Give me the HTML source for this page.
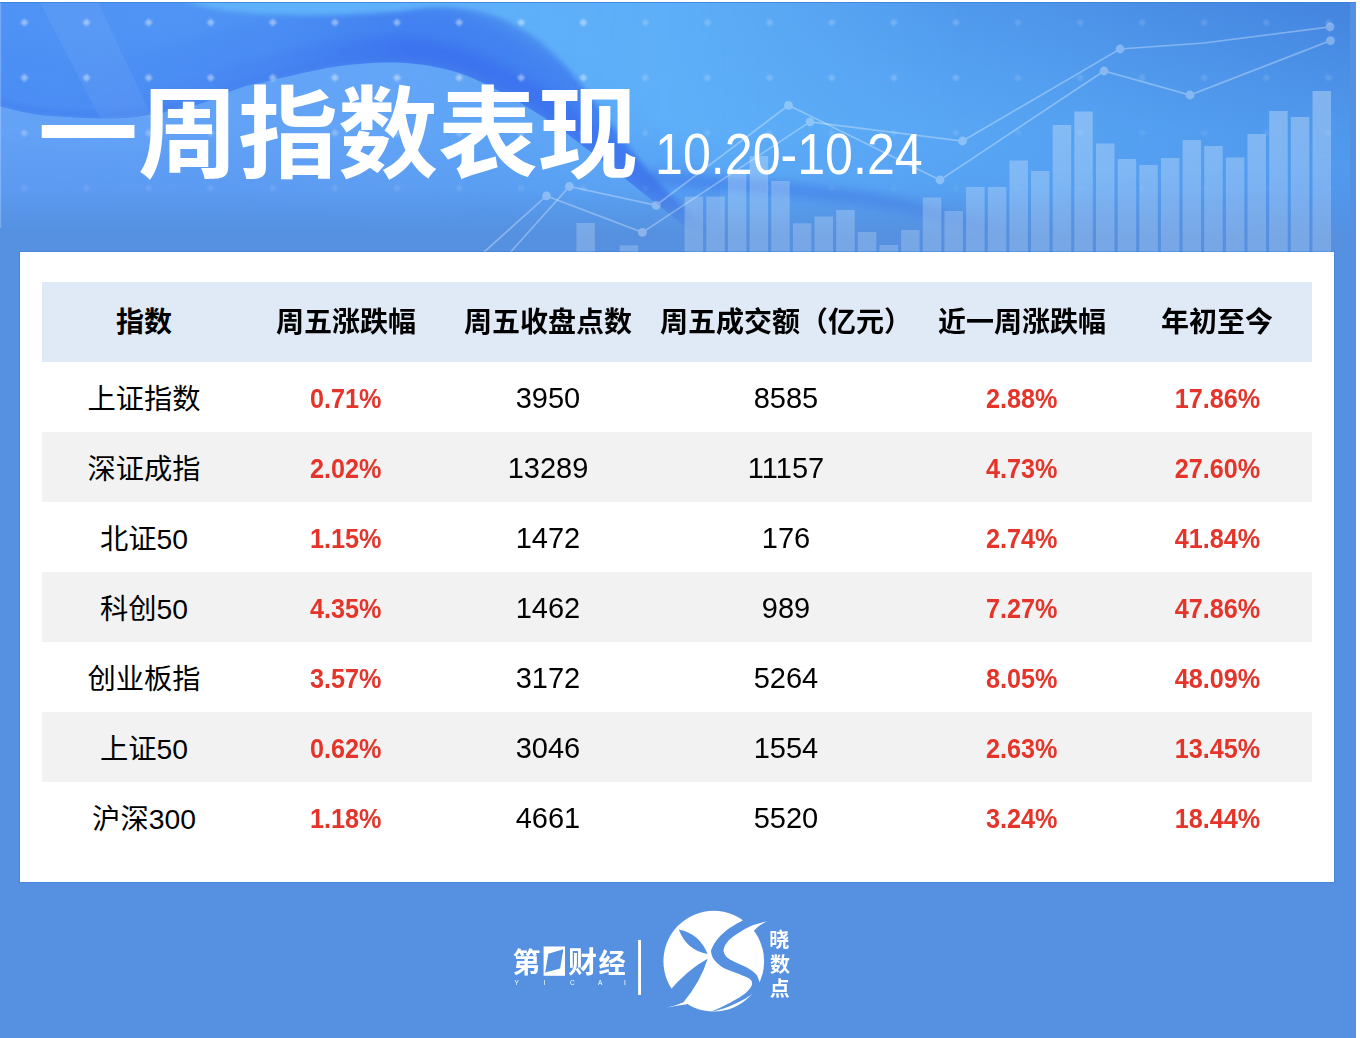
<!DOCTYPE html>
<html lang="zh-CN">
<head>
<meta charset="utf-8">
<title>一周指数表现 10.20-10.24</title>
<style>
html,body{margin:0;padding:0;background:#fff;}
body{width:1360px;height:1038px;position:relative;overflow:hidden;font-family:"Liberation Sans","Noto Sans CJK SC",sans-serif;}
#page{position:absolute;left:0;top:2px;width:1356px;height:1036px;background:#5591e0;overflow:hidden;}
#hdr{position:absolute;left:0;top:0;width:1356px;height:252px;}
#hdr svg{display:block;}
h1{margin:0;position:absolute;left:38px;top:73px;font-size:100px;line-height:120px;font-weight:bold;color:#fff;white-space:nowrap;letter-spacing:0;font-family:"Liberation Sans","Noto Sans CJK SC",sans-serif;}
#date{position:absolute;left:655px;top:119px;font-size:57px;line-height:66px;color:#fff;white-space:nowrap;transform-origin:0 50%;transform:scaleX(0.88);}
#card{position:absolute;left:20px;top:250px;width:1314px;height:630px;background:#fff;box-shadow:0 0 0 1px rgba(48,110,205,0.28);}
table{position:absolute;left:22px;top:30px;width:1270px;border-collapse:collapse;table-layout:fixed;}
th,td{padding:0;margin:0;text-align:center;vertical-align:middle;white-space:nowrap;overflow:hidden;line-height:34px;}
tr.hd{height:80px;background:#e0eaf6;}
tr.odd{height:70px;background:#fff;}
tr.even{height:70px;background:#f2f2f2;}
th{font-size:28px;font-weight:bold;}
td{font-size:29px;color:#000;}
.cj{color:#000;position:relative;top:1px;font-family:"Liberation Sans","Noto Sans CJK SC",sans-serif;}
td .cj{font-size:28.3px;top:2px;}
.bn{display:inline-block;position:relative;top:1px;}
td.red{color:#e5352b;}
.rn{display:inline-block;font-weight:bold;font-size:28px;transform:scaleX(0.9);position:relative;top:1px;}
#ov{position:absolute;left:0;top:0;width:1360px;height:1038px;pointer-events:none;}
#logo{position:absolute;left:0;top:0;}
</style>
</head>
<body>
<div id="page">
  <div id="hdr"><svg width="1356" height="252" viewBox="0 2 1356 252" aria-hidden="true">
<defs>
<linearGradient id="bgH" x1="0" y1="0" x2="1350" y2="0" gradientUnits="userSpaceOnUse">
<stop offset="0" stop-color="#4e92f5"/><stop offset="0.18" stop-color="#5095f5"/><stop offset="0.36" stop-color="#55a0f6"/>
<stop offset="0.5" stop-color="#5eb0f9"/><stop offset="0.7" stop-color="#5aaaf7"/><stop offset="0.86" stop-color="#56a3f3"/><stop offset="1" stop-color="#529df0"/>
</linearGradient>
<linearGradient id="bgV" x1="0" y1="2" x2="0" y2="252" gradientUnits="userSpaceOnUse">
<stop offset="0" stop-color="#3f7fe6" stop-opacity="0"/><stop offset="0.5" stop-color="#4a8ae8" stop-opacity="0.0"/><stop offset="0.8" stop-color="#4d8be6" stop-opacity="0.35"/><stop offset="1" stop-color="#4d8be6" stop-opacity="0.5"/>
</linearGradient>
<linearGradient id="fade" x1="0" y1="190" x2="0" y2="234" gradientUnits="userSpaceOnUse">
<stop offset="0" stop-color="#5591e0" stop-opacity="0"/><stop offset="1" stop-color="#5591e0" stop-opacity="1"/>
</linearGradient>
<linearGradient id="barG" x1="0" y1="90" x2="0" y2="252" gradientUnits="userSpaceOnUse">
<stop offset="0" stop-color="#fff" stop-opacity="0.30"/><stop offset="1" stop-color="#fff" stop-opacity="0.20"/>
</linearGradient>
<linearGradient id="trG" x1="0" y1="2" x2="0" y2="165" gradientUnits="userSpaceOnUse">
<stop offset="0" stop-color="#3a74d4" stop-opacity="1"/><stop offset="0.45" stop-color="#3a74d4" stop-opacity="0.5"/><stop offset="1" stop-color="#3a74d4" stop-opacity="0"/>
</linearGradient>
<linearGradient id="trM" x1="430" y1="0" x2="1350" y2="0" gradientUnits="userSpaceOnUse">
<stop offset="0" stop-color="#fff" stop-opacity="0"/><stop offset="0.08" stop-color="#fff" stop-opacity="0.2"/><stop offset="0.36" stop-color="#fff" stop-opacity="0.22"/><stop offset="0.68" stop-color="#fff" stop-opacity="0.36"/><stop offset="1" stop-color="#fff" stop-opacity="0.62"/>
</linearGradient>
<mask id="trMask" maskUnits="userSpaceOnUse" x="0" y="0" width="1360" height="260"><rect x="0" y="0" width="1360" height="260" fill="url(#trM)"/></mask>
<linearGradient id="coreM" x1="60" y1="0" x2="800" y2="0" gradientUnits="userSpaceOnUse">
<stop offset="0" stop-color="#fff" stop-opacity="0.15"/><stop offset="0.28" stop-color="#fff" stop-opacity="0.45"/><stop offset="0.47" stop-color="#fff" stop-opacity="1"/><stop offset="0.92" stop-color="#fff" stop-opacity="1"/><stop offset="1" stop-color="#fff" stop-opacity="0.4"/>
</linearGradient>
<mask id="coreMask" maskUnits="userSpaceOnUse" x="-20" y="-40" width="1400" height="320"><rect x="-20" y="-40" width="1400" height="320" fill="url(#coreM)"/></mask>
<linearGradient id="ltG" x1="430" y1="0" x2="960" y2="0" gradientUnits="userSpaceOnUse">
<stop offset="0" stop-color="#60b3fa" stop-opacity="0.95"/><stop offset="0.45" stop-color="#5eb0f9" stop-opacity="0.85"/><stop offset="1" stop-color="#5aa9f6" stop-opacity="0"/>
</linearGradient>
<filter id="b3" x="-10%" y="-30%" width="120%" height="160%"><feGaussianBlur stdDeviation="2.5"/></filter>
<filter id="b6" x="-10%" y="-30%" width="120%" height="160%"><feGaussianBlur stdDeviation="6"/></filter>
<linearGradient id="blG" x1="0" y1="0" x2="700" y2="0" gradientUnits="userSpaceOnUse">
<stop offset="0" stop-color="#7fb6f8" stop-opacity="0.42"/><stop offset="0.55" stop-color="#7fb6f8" stop-opacity="0.36"/><stop offset="1" stop-color="#7fb6f8" stop-opacity="0"/>
</linearGradient>
<filter id="b07" x="-1%" y="-5%" width="102%" height="110%"><feGaussianBlur stdDeviation="0.8"/></filter>
<filter id="b4" x="-10%" y="-30%" width="120%" height="160%"><feGaussianBlur stdDeviation="4"/></filter>
<filter id="b10" x="-10%" y="-30%" width="120%" height="160%"><feGaussianBlur stdDeviation="10"/></filter>
<filter id="b18" x="-10%" y="-40%" width="120%" height="180%"><feGaussianBlur stdDeviation="18"/></filter>
<clipPath id="aboveL"><path d="M-10.0,104.0C-2.8,105.7 20.3,111.8 33.0,114.0C45.7,116.2 54.8,116.2 66.0,117.0C77.2,117.8 89.0,118.4 100.0,118.5C111.0,118.6 122.0,118.4 132.0,117.5C142.0,116.6 148.7,115.2 160.0,113.0C171.3,110.8 186.7,108.2 200.0,104.0C213.3,99.8 229.2,91.7 240.0,88.0C250.8,84.3 256.7,84.0 265.0,82.0C273.3,80.0 277.5,78.7 290.0,76.0C302.5,73.3 323.3,68.2 340.0,66.0C356.7,63.8 375.0,62.5 390.0,62.5C405.0,62.5 417.5,63.9 430.0,66.0C442.5,68.1 453.0,70.6 465.0,75.0C477.0,79.4 489.5,85.8 502.0,92.5C514.5,99.2 529.5,108.3 540.0,115.0C550.5,121.7 554.3,124.7 565.0,132.5C575.7,140.3 591.8,152.6 604.0,162.0C616.2,171.4 626.7,180.0 638.0,189.0C649.3,198.0 660.8,206.7 672.0,216.0C683.2,225.3 697.0,237.3 705.0,245.0C713.0,252.7 717.5,259.2 720.0,262.0L720,-40L-10,-40Z"/></clipPath>
<clipPath id="hdrClip"><rect x="0" y="2" width="1350" height="252"/></clipPath>
</defs>
<g clip-path="url(#hdrClip)">
<rect x="0" y="2" width="1350" height="252" fill="url(#bgH)"/>
<rect x="0" y="2" width="1350" height="252" fill="url(#trG)" mask="url(#trMask)"/>
<g clip-path="url(#aboveL)" mask="url(#coreMask)">
<path d="M-10.0,70.0C-2.8,71.7 20.3,77.8 33.0,80.0C45.7,82.2 54.8,82.2 66.0,83.0C77.2,83.8 89.0,84.4 100.0,84.5C111.0,84.6 122.0,84.4 132.0,83.5C142.0,82.6 148.7,81.2 160.0,79.0C171.3,76.8 186.7,74.2 200.0,70.0C213.3,65.8 229.2,57.7 240.0,54.0C250.8,50.3 256.7,50.0 265.0,48.0C273.3,46.0 277.5,44.7 290.0,42.0C302.5,39.3 323.3,34.2 340.0,32.0C356.7,29.8 375.0,28.5 390.0,28.5C405.0,28.5 417.5,29.9 430.0,32.0C442.5,34.1 453.0,36.6 465.0,41.0C477.0,45.4 489.5,51.8 502.0,58.5C514.5,65.2 529.5,74.3 540.0,81.0C550.5,87.7 554.3,90.7 565.0,98.5C575.7,106.3 591.8,118.6 604.0,128.0C616.2,137.4 626.7,146.0 638.0,155.0C649.3,164.0 660.8,172.7 672.0,182.0C683.2,191.3 697.0,203.3 705.0,211.0C713.0,218.7 717.5,225.2 720.0,228.0" fill="none" stroke="#3f7df0" stroke-width="62" opacity="0.85" filter="url(#b10)"/>
<path d="M-10.0,94.0C-2.8,95.7 20.3,101.8 33.0,104.0C45.7,106.2 54.8,106.2 66.0,107.0C77.2,107.8 89.0,108.4 100.0,108.5C111.0,108.6 122.0,108.4 132.0,107.5C142.0,106.6 148.7,105.2 160.0,103.0C171.3,100.8 186.7,98.2 200.0,94.0C213.3,89.8 229.2,81.7 240.0,78.0C250.8,74.3 256.7,74.0 265.0,72.0C273.3,70.0 277.5,68.7 290.0,66.0C302.5,63.3 323.3,58.2 340.0,56.0C356.7,53.8 375.0,52.5 390.0,52.5C405.0,52.5 417.5,53.9 430.0,56.0C442.5,58.1 453.0,60.6 465.0,65.0C477.0,69.4 489.5,75.8 502.0,82.5C514.5,89.2 529.5,98.3 540.0,105.0C550.5,111.7 554.3,114.7 565.0,122.5C575.7,130.3 591.8,142.6 604.0,152.0C616.2,161.4 626.7,170.0 638.0,179.0C649.3,188.0 660.8,196.7 672.0,206.0C683.2,215.3 697.0,227.3 705.0,235.0C713.0,242.7 717.5,249.2 720.0,252.0" fill="none" stroke="#3a70ee" stroke-width="30" opacity="0.85" filter="url(#b6)"/>
</g>
<path d="M-10.0,100.5C-2.8,102.2 20.3,108.3 33.0,110.5C45.7,112.7 54.8,112.8 66.0,113.5C77.2,114.2 89.0,114.9 100.0,115.0C111.0,115.1 122.0,114.9 132.0,114.0C142.0,113.1 148.7,111.8 160.0,109.5C171.3,107.2 186.7,104.7 200.0,100.5C213.3,96.3 229.2,88.2 240.0,84.5C250.8,80.8 256.7,80.5 265.0,78.5C273.3,76.5 277.5,75.2 290.0,72.5C302.5,69.8 323.3,64.8 340.0,62.5C356.7,60.2 375.0,59.0 390.0,59.0C405.0,59.0 417.5,60.4 430.0,62.5C442.5,64.6 453.0,67.1 465.0,71.5C477.0,75.9 489.5,82.3 502.0,89.0C514.5,95.7 529.5,104.8 540.0,111.5C550.5,118.2 554.3,121.2 565.0,129.0C575.7,136.8 591.8,149.1 604.0,158.5C616.2,167.9 626.7,176.5 638.0,185.5C649.3,194.5 660.8,203.2 672.0,212.5C683.2,221.8 697.0,233.8 705.0,241.5C713.0,249.2 717.5,255.7 720.0,258.5" fill="none" stroke="#3a72ea" stroke-width="7" opacity="0.42" filter="url(#b3)" clip-path="url(#aboveL)"/>
<path d="M165.0,-5.0C173.3,-2.7 197.5,5.8 215.0,9.0C232.5,12.2 250.8,13.0 270.0,14.0C289.2,15.0 310.0,15.3 330.0,15.0C350.0,14.7 371.3,13.3 390.0,12.0C408.7,10.7 425.5,6.7 442.0,7.0C458.5,7.3 474.3,9.5 489.0,14.0C503.7,18.5 517.5,25.7 530.0,34.0C542.5,42.3 553.3,52.8 564.0,64.0C574.7,75.2 582.8,86.8 594.0,101.0C605.2,115.2 619.2,134.3 631.0,149.0C642.8,163.7 653.7,176.8 665.0,189.0C676.3,201.2 686.5,209.8 699.0,222.0C711.5,234.2 733.2,255.3 740.0,262.0L1000,262L1000,-40L150,-40Z" fill="url(#ltG)" filter="url(#b3)"/>
<path d="M-10.0,104.0C-2.8,105.7 20.3,111.8 33.0,114.0C45.7,116.2 54.8,116.2 66.0,117.0C77.2,117.8 89.0,118.4 100.0,118.5C111.0,118.6 122.0,118.4 132.0,117.5C142.0,116.6 148.7,115.2 160.0,113.0C171.3,110.8 186.7,108.2 200.0,104.0C213.3,99.8 229.2,91.7 240.0,88.0C250.8,84.3 256.7,84.0 265.0,82.0C273.3,80.0 277.5,78.7 290.0,76.0C302.5,73.3 323.3,68.2 340.0,66.0C356.7,63.8 375.0,62.5 390.0,62.5C405.0,62.5 417.5,63.9 430.0,66.0C442.5,68.1 453.0,70.6 465.0,75.0C477.0,79.4 489.5,85.8 502.0,92.5C514.5,99.2 529.5,108.3 540.0,115.0C550.5,121.7 554.3,124.7 565.0,132.5C575.7,140.3 591.8,152.6 604.0,162.0C616.2,171.4 626.7,180.0 638.0,189.0C649.3,198.0 660.8,206.7 672.0,216.0C683.2,225.3 697.0,237.3 705.0,245.0C713.0,252.7 717.5,259.2 720.0,262.0L720,270L-10,270Z" fill="url(#blG)"/>
<path d="M-10.0,118.0C-2.8,119.7 20.3,125.8 33.0,128.0C45.7,130.2 54.8,130.2 66.0,131.0C77.2,131.8 89.0,132.4 100.0,132.5C111.0,132.6 122.0,132.4 132.0,131.5C142.0,130.6 148.7,129.2 160.0,127.0C171.3,124.8 186.7,122.2 200.0,118.0C213.3,113.8 229.2,105.7 240.0,102.0C250.8,98.3 256.7,98.0 265.0,96.0C273.3,94.0 277.5,92.7 290.0,90.0C302.5,87.3 323.3,82.2 340.0,80.0C356.7,77.8 375.0,76.5 390.0,76.5C405.0,76.5 417.5,77.9 430.0,80.0C442.5,82.1 453.0,84.6 465.0,89.0C477.0,93.4 489.5,99.8 502.0,106.5C514.5,113.2 529.5,122.3 540.0,129.0C550.5,135.7 554.3,138.7 565.0,146.5C575.7,154.3 591.8,166.6 604.0,176.0C616.2,185.4 626.7,194.0 638.0,203.0C649.3,212.0 660.8,220.7 672.0,230.0C683.2,239.3 697.0,251.3 705.0,259.0C713.0,266.7 717.5,273.2 720.0,276.0" fill="none" stroke="#66a8f8" stroke-width="26" opacity="0.3" filter="url(#b10)"/>
<path d="M40,2L98,2L152,117L100,118.5Z" fill="#fff" opacity="0.06"/>
<rect x="0" y="2" width="1350" height="252" fill="url(#bgV)"/>
<path d="M650.0,176.0C658.3,177.0 678.3,179.8 700.0,182.0C721.7,184.2 750.0,185.7 780.0,189.0C810.0,192.3 850.0,196.5 880.0,202.0C910.0,207.5 938.3,215.7 960.0,222.0C981.7,228.3 1001.7,237.0 1010.0,240.0" fill="none" stroke="#3d76e6" stroke-width="15" opacity="0.5" filter="url(#b4)"/>
<rect x="0" y="170" width="1350" height="90" fill="url(#fade)"/>
<g fill="#fff" filter="url(#b07)"><path d="M20.4,22.6L24.4,18.6L28.4,22.6L24.4,26.6Z" opacity="0.42"/><path d="M82.5,22.6L86.5,18.6L90.5,22.6L86.5,26.6Z" opacity="0.42"/><path d="M144.6,22.6L148.6,18.6L152.6,22.6L148.6,26.6Z" opacity="0.42"/><path d="M206.7,22.6L210.7,18.6L214.7,22.6L210.7,26.6Z" opacity="0.42"/><path d="M268.8,22.6L272.8,18.6L276.8,22.6L272.8,26.6Z" opacity="0.42"/><path d="M330.9,22.6L334.9,18.6L338.9,22.6L334.9,26.6Z" opacity="0.42"/><path d="M393.0,22.6L397.0,18.6L401.0,22.6L397.0,26.6Z" opacity="0.42"/><path d="M455.1,22.6L459.1,18.6L463.1,22.6L459.1,26.6Z" opacity="0.42"/><path d="M517.2,22.6L521.2,18.6L525.2,22.6L521.2,26.6Z" opacity="0.42"/><path d="M579.3,22.6L583.3,18.6L587.3,22.6L583.3,26.6Z" opacity="0.42"/><path d="M641.4,22.6L645.4,18.6L649.4,22.6L645.4,26.6Z" opacity="0.20"/><path d="M703.5,22.6L707.5,18.6L711.5,22.6L707.5,26.6Z" opacity="0.20"/><path d="M765.6,22.6L769.6,18.6L773.6,22.6L769.6,26.6Z" opacity="0.20"/><path d="M827.7,22.6L831.7,18.6L835.7,22.6L831.7,26.6Z" opacity="0.20"/><path d="M889.8,22.6L893.8,18.6L897.8,22.6L893.8,26.6Z" opacity="0.20"/><path d="M951.9,22.6L955.9,18.6L959.9,22.6L955.9,26.6Z" opacity="0.20"/><path d="M1014.0,22.6L1018.0,18.6L1022.0,22.6L1018.0,26.6Z" opacity="0.13"/><path d="M1076.1,22.6L1080.1,18.6L1084.1,22.6L1080.1,26.6Z" opacity="0.13"/><path d="M1138.2,22.6L1142.2,18.6L1146.2,22.6L1142.2,26.6Z" opacity="0.13"/><path d="M1200.3,22.6L1204.3,18.6L1208.3,22.6L1204.3,26.6Z" opacity="0.13"/><path d="M1262.4,22.6L1266.4,18.6L1270.4,22.6L1266.4,26.6Z" opacity="0.13"/><path d="M1324.5,22.6L1328.5,18.6L1332.5,22.6L1328.5,26.6Z" opacity="0.13"/><path d="M20.4,77.8L24.4,73.8L28.4,77.8L24.4,81.8Z" opacity="0.42"/><path d="M82.5,77.8L86.5,73.8L90.5,77.8L86.5,81.8Z" opacity="0.42"/><path d="M144.6,77.8L148.6,73.8L152.6,77.8L148.6,81.8Z" opacity="0.42"/><path d="M206.7,77.8L210.7,73.8L214.7,77.8L210.7,81.8Z" opacity="0.42"/><path d="M268.8,77.8L272.8,73.8L276.8,77.8L272.8,81.8Z" opacity="0.42"/><path d="M330.9,77.8L334.9,73.8L338.9,77.8L334.9,81.8Z" opacity="0.42"/><path d="M393.0,77.8L397.0,73.8L401.0,77.8L397.0,81.8Z" opacity="0.42"/><path d="M455.1,77.8L459.1,73.8L463.1,77.8L459.1,81.8Z" opacity="0.42"/><path d="M517.2,77.8L521.2,73.8L525.2,77.8L521.2,81.8Z" opacity="0.42"/><path d="M579.3,77.8L583.3,73.8L587.3,77.8L583.3,81.8Z" opacity="0.42"/><path d="M641.4,77.8L645.4,73.8L649.4,77.8L645.4,81.8Z" opacity="0.20"/><path d="M703.5,77.8L707.5,73.8L711.5,77.8L707.5,81.8Z" opacity="0.20"/><path d="M765.6,77.8L769.6,73.8L773.6,77.8L769.6,81.8Z" opacity="0.20"/><path d="M827.7,77.8L831.7,73.8L835.7,77.8L831.7,81.8Z" opacity="0.20"/><path d="M889.8,77.8L893.8,73.8L897.8,77.8L893.8,81.8Z" opacity="0.20"/><path d="M951.9,77.8L955.9,73.8L959.9,77.8L955.9,81.8Z" opacity="0.20"/><path d="M1014.0,77.8L1018.0,73.8L1022.0,77.8L1018.0,81.8Z" opacity="0.13"/><path d="M1076.1,77.8L1080.1,73.8L1084.1,77.8L1080.1,81.8Z" opacity="0.13"/><path d="M1138.2,77.8L1142.2,73.8L1146.2,77.8L1142.2,81.8Z" opacity="0.13"/><path d="M1200.3,77.8L1204.3,73.8L1208.3,77.8L1204.3,81.8Z" opacity="0.13"/><path d="M1262.4,77.8L1266.4,73.8L1270.4,77.8L1266.4,81.8Z" opacity="0.13"/><path d="M1324.5,77.8L1328.5,73.8L1332.5,77.8L1328.5,81.8Z" opacity="0.13"/><path d="M20.4,133.0L24.4,129.0L28.4,133.0L24.4,137.0Z" opacity="0.25"/><path d="M82.5,133.0L86.5,129.0L90.5,133.0L86.5,137.0Z" opacity="0.25"/><path d="M144.6,133.0L148.6,129.0L152.6,133.0L148.6,137.0Z" opacity="0.25"/><path d="M206.7,133.0L210.7,129.0L214.7,133.0L210.7,137.0Z" opacity="0.25"/><path d="M268.8,133.0L272.8,129.0L276.8,133.0L272.8,137.0Z" opacity="0.25"/><path d="M330.9,133.0L334.9,129.0L338.9,133.0L334.9,137.0Z" opacity="0.25"/><path d="M393.0,133.0L397.0,129.0L401.0,133.0L397.0,137.0Z" opacity="0.25"/><path d="M455.1,133.0L459.1,129.0L463.1,133.0L459.1,137.0Z" opacity="0.25"/><path d="M517.2,133.0L521.2,129.0L525.2,133.0L521.2,137.0Z" opacity="0.25"/><path d="M579.3,133.0L583.3,129.0L587.3,133.0L583.3,137.0Z" opacity="0.25"/><path d="M641.4,133.0L645.4,129.0L649.4,133.0L645.4,137.0Z" opacity="0.12"/><path d="M703.5,133.0L707.5,129.0L711.5,133.0L707.5,137.0Z" opacity="0.12"/><path d="M765.6,133.0L769.6,129.0L773.6,133.0L769.6,137.0Z" opacity="0.12"/><path d="M827.7,133.0L831.7,129.0L835.7,133.0L831.7,137.0Z" opacity="0.12"/><path d="M889.8,133.0L893.8,129.0L897.8,133.0L893.8,137.0Z" opacity="0.12"/><path d="M951.9,133.0L955.9,129.0L959.9,133.0L955.9,137.0Z" opacity="0.12"/><path d="M1014.0,133.0L1018.0,129.0L1022.0,133.0L1018.0,137.0Z" opacity="0.08"/><path d="M1076.1,133.0L1080.1,129.0L1084.1,133.0L1080.1,137.0Z" opacity="0.08"/><path d="M1138.2,133.0L1142.2,129.0L1146.2,133.0L1142.2,137.0Z" opacity="0.08"/><path d="M1200.3,133.0L1204.3,129.0L1208.3,133.0L1204.3,137.0Z" opacity="0.08"/><path d="M1262.4,133.0L1266.4,129.0L1270.4,133.0L1266.4,137.0Z" opacity="0.08"/><path d="M1324.5,133.0L1328.5,129.0L1332.5,133.0L1328.5,137.0Z" opacity="0.08"/><path d="M20.4,188.2L24.4,184.2L28.4,188.2L24.4,192.2Z" opacity="0.10"/><path d="M82.5,188.2L86.5,184.2L90.5,188.2L86.5,192.2Z" opacity="0.10"/><path d="M144.6,188.2L148.6,184.2L152.6,188.2L148.6,192.2Z" opacity="0.10"/><path d="M206.7,188.2L210.7,184.2L214.7,188.2L210.7,192.2Z" opacity="0.10"/><path d="M268.8,188.2L272.8,184.2L276.8,188.2L272.8,192.2Z" opacity="0.10"/><path d="M330.9,188.2L334.9,184.2L338.9,188.2L334.9,192.2Z" opacity="0.10"/><path d="M393.0,188.2L397.0,184.2L401.0,188.2L397.0,192.2Z" opacity="0.10"/><path d="M455.1,188.2L459.1,184.2L463.1,188.2L459.1,192.2Z" opacity="0.10"/><path d="M517.2,188.2L521.2,184.2L525.2,188.2L521.2,192.2Z" opacity="0.10"/><path d="M579.3,188.2L583.3,184.2L587.3,188.2L583.3,192.2Z" opacity="0.10"/><path d="M641.4,188.2L645.4,184.2L649.4,188.2L645.4,192.2Z" opacity="0.05"/><path d="M703.5,188.2L707.5,184.2L711.5,188.2L707.5,192.2Z" opacity="0.05"/><path d="M765.6,188.2L769.6,184.2L773.6,188.2L769.6,192.2Z" opacity="0.05"/><path d="M827.7,188.2L831.7,184.2L835.7,188.2L831.7,192.2Z" opacity="0.05"/><path d="M889.8,188.2L893.8,184.2L897.8,188.2L893.8,192.2Z" opacity="0.05"/><path d="M951.9,188.2L955.9,184.2L959.9,188.2L955.9,192.2Z" opacity="0.05"/><path d="M1014.0,188.2L1018.0,184.2L1022.0,188.2L1018.0,192.2Z" opacity="0.03"/><path d="M1076.1,188.2L1080.1,184.2L1084.1,188.2L1080.1,192.2Z" opacity="0.03"/><path d="M1138.2,188.2L1142.2,184.2L1146.2,188.2L1142.2,192.2Z" opacity="0.03"/><path d="M1200.3,188.2L1204.3,184.2L1208.3,188.2L1204.3,192.2Z" opacity="0.03"/><path d="M1262.4,188.2L1266.4,184.2L1270.4,188.2L1266.4,192.2Z" opacity="0.03"/><path d="M1324.5,188.2L1328.5,184.2L1332.5,188.2L1328.5,192.2Z" opacity="0.03"/></g>
<g fill="url(#barG)"><rect x="576.4" y="223" width="18.5" height="31.0"/><rect x="619.7" y="245.3" width="18.5" height="8.7"/><rect x="684.6" y="196.6" width="18.5" height="57.4"/><rect x="706.3" y="196.6" width="18.5" height="57.4"/><rect x="727.9" y="174" width="18.5" height="80.0"/><rect x="749.6" y="156" width="18.5" height="98.0"/><rect x="771.2" y="181" width="18.5" height="73.0"/><rect x="792.9" y="223.3" width="18.5" height="30.7"/><rect x="814.5" y="216.5" width="18.5" height="37.5"/><rect x="836.2" y="210" width="18.5" height="44.0"/><rect x="857.8" y="232" width="18.5" height="22.0"/><rect x="879.5" y="245" width="18.5" height="9.0"/><rect x="901.1" y="230" width="18.5" height="24.0"/><rect x="922.8" y="197.5" width="18.5" height="56.5"/><rect x="944.4" y="211" width="18.5" height="43.0"/><rect x="966.1" y="187" width="18.5" height="67.0"/><rect x="987.8" y="187" width="18.5" height="67.0"/><rect x="1009.4" y="160.5" width="18.5" height="93.5"/><rect x="1031.0" y="171" width="18.5" height="83.0"/><rect x="1052.7" y="125" width="18.5" height="129.0"/><rect x="1074.3" y="111.5" width="18.5" height="142.5"/><rect x="1096.0" y="143.5" width="18.5" height="110.5"/><rect x="1117.7" y="159" width="18.5" height="95.0"/><rect x="1139.3" y="165" width="18.5" height="89.0"/><rect x="1160.9" y="158" width="18.5" height="96.0"/><rect x="1182.6" y="140" width="18.5" height="114.0"/><rect x="1204.2" y="146" width="18.5" height="108.0"/><rect x="1225.9" y="157.5" width="18.5" height="96.5"/><rect x="1247.5" y="134" width="18.5" height="120.0"/><rect x="1269.2" y="111" width="18.5" height="143.0"/><rect x="1290.8" y="117" width="18.5" height="137.0"/><rect x="1312.5" y="91" width="18.5" height="163.0"/></g>
<g opacity="0.31" fill="#fff"><polyline points="484.1,252 546.5,195.9 642.4,232.4 810,121.8 962.5,141 1120,49 1204,43 1330,26.8" fill="none" stroke="#fff" stroke-width="1.7"/><circle cx="546.5" cy="195.9" r="4.4"/><circle cx="642.4" cy="232.4" r="4.4"/><circle cx="810" cy="121.8" r="4.4"/><circle cx="962.5" cy="141" r="4.4"/><circle cx="1120" cy="49" r="4.4"/><circle cx="1330" cy="26.8" r="4.4"/></g>
<g opacity="0.31" fill="#fff"><polyline points="510.6,252 569.4,186.5 656.2,205.3 788.5,105.3 940,180 1104,71 1190,95 1330.5,40.6" fill="none" stroke="#fff" stroke-width="1.7"/><circle cx="569.4" cy="186.5" r="4.4"/><circle cx="656.2" cy="205.3" r="4.4"/><circle cx="788.5" cy="105.3" r="4.4"/><circle cx="940" cy="180" r="4.4"/><circle cx="1104" cy="71" r="4.4"/><circle cx="1190" cy="95" r="4.4"/><circle cx="1330.5" cy="40.6" r="4.4"/></g>
</g>
<rect x="0" y="3" width="1.2" height="225" fill="#fff" opacity="0.22"/>
<rect x="0" y="2" width="1356" height="1" fill="#3f7fd8" opacity="0.8"/>
</svg></div>
  <h1>一周指数表现</h1>
  <div id="date">10.20-10.24</div>
  <div id="card">
    <table>
      <colgroup><col style="width:204px"><col style="width:200px"><col style="width:204px"><col style="width:272px"><col style="width:200px"><col style="width:190px"></colgroup>
      <thead><tr class="hd"><th class="c0"><span class="cj">指数</span></th><th class="c1"><span class="cj">周五涨跌幅</span></th><th class="c2"><span class="cj">周五收盘点数</span></th><th class="c3"><span class="cj">周五成交额（亿元）</span></th><th class="c4"><span class="cj">近一周涨跌幅</span></th><th class="c5"><span class="cj">年初至今</span></th></tr></thead>
      <tbody>
<tr class="odd"><td class="c0"><span class="cj">上证指数</span></td><td class="c1 red"><span class="rn">0.71%</span></td><td class="c2"><span class="bn">3950</span></td><td class="c3"><span class="bn">8585</span></td><td class="c4 red"><span class="rn">2.88%</span></td><td class="c5 red"><span class="rn">17.86%</span></td></tr>
<tr class="even"><td class="c0"><span class="cj">深证成指</span></td><td class="c1 red"><span class="rn">2.02%</span></td><td class="c2"><span class="bn">13289</span></td><td class="c3"><span class="bn">11157</span></td><td class="c4 red"><span class="rn">4.73%</span></td><td class="c5 red"><span class="rn">27.60%</span></td></tr>
<tr class="odd"><td class="c0"><span class="cj">北证50</span></td><td class="c1 red"><span class="rn">1.15%</span></td><td class="c2"><span class="bn">1472</span></td><td class="c3"><span class="bn">176</span></td><td class="c4 red"><span class="rn">2.74%</span></td><td class="c5 red"><span class="rn">41.84%</span></td></tr>
<tr class="even"><td class="c0"><span class="cj">科创50</span></td><td class="c1 red"><span class="rn">4.35%</span></td><td class="c2"><span class="bn">1462</span></td><td class="c3"><span class="bn">989</span></td><td class="c4 red"><span class="rn">7.27%</span></td><td class="c5 red"><span class="rn">47.86%</span></td></tr>
<tr class="odd"><td class="c0"><span class="cj">创业板指</span></td><td class="c1 red"><span class="rn">3.57%</span></td><td class="c2"><span class="bn">3172</span></td><td class="c3"><span class="bn">5264</span></td><td class="c4 red"><span class="rn">8.05%</span></td><td class="c5 red"><span class="rn">48.09%</span></td></tr>
<tr class="even"><td class="c0"><span class="cj">上证50</span></td><td class="c1 red"><span class="rn">0.62%</span></td><td class="c2"><span class="bn">3046</span></td><td class="c3"><span class="bn">1554</span></td><td class="c4 red"><span class="rn">2.63%</span></td><td class="c5 red"><span class="rn">13.45%</span></td></tr>
<tr class="odd"><td class="c0"><span class="cj">沪深300</span></td><td class="c1 red"><span class="rn">1.18%</span></td><td class="c2"><span class="bn">4661</span></td><td class="c3"><span class="bn">5520</span></td><td class="c4 red"><span class="rn">3.24%</span></td><td class="c5 red"><span class="rn">18.44%</span></td></tr>
      </tbody>
    </table>
  </div>
</div>
<svg id="ov" width="1360" height="1038" viewBox="0 0 1360 1038" aria-hidden="true">
<g transform="translate(650 900) scale(0.117647)">
<circle cx="542" cy="520" r="428" fill="#fff"/>
<path d="M999.5,179.5 L850,200 L740,262 L700,330 L885,259 Q925,212 999.5,179.5Z" fill="#fff"/>
<path d="M286,866 Q215,898 140,913 Q230,900 313,886 L335,860Z" fill="#fff"/>
<path d="M245,250 Q424,287 490,460 Q308,423 245,250Z" fill="#5591e0"/>
<path d="M490,500 Q320,590 150,790 L100,880 L140,913 Q215,898 286,866 Q428,700 490,500Z" fill="#5591e0"/>
<path d="M999.5,179.5C975.2,186.7 895.9,205.0 853.5,222.7C811.1,240.4 776.9,264.8 745.4,285.8C713.9,306.8 683.8,327.9 664.3,348.9C644.8,369.9 633.5,394.0 628.2,412.0C622.9,430.0 625.2,442.0 632.7,457.0C640.2,472.0 651.5,487.0 673.3,502.0C695.1,517.0 733.4,532.0 763.4,547.0C793.4,562.0 829.5,576.5 853.5,592.0C877.5,607.5 894.1,620.5 907.6,640.0C921.1,659.5 930.1,697.5 934.6,709.0C929.7,717.8 917.1,746.2 905.0,762.0C892.9,777.8 880.8,789.6 862.0,804.0C843.2,818.4 821.5,832.7 792.2,848.6C763.0,864.5 721.5,884.8 686.5,899.4C651.5,914.0 608.9,927.9 582.0,936.0C555.1,944.1 534.5,946.0 525.0,948.0C549.7,936.3 629.1,901.3 673.3,878.0C717.5,854.7 760.4,830.5 790.4,808.4C820.4,786.3 840.7,763.4 853.5,745.4C866.3,727.4 870.0,713.9 867.0,700.3C864.0,686.7 858.8,677.5 835.5,664.0C812.2,650.5 763.3,634.0 727.3,619.0C691.2,604.0 649.2,592.0 619.2,574.0C589.2,556.0 563.6,532.0 547.1,511.0C530.6,490.0 523.1,466.0 520.1,448.0C517.1,430.0 518.6,424.0 529.1,403.0C539.6,382.0 559.2,348.9 583.2,321.8C607.2,294.8 639.5,265.5 673.3,240.7C707.1,215.9 767.1,184.4 785.9,173.2L900,100Z" fill="#5591e0"/>
</g>
<rect x="638.1" y="939.9" width="2.9" height="55" fill="#fff"/>
<g fill="#fff" font-weight="bold" font-family="'Liberation Sans','Noto Sans CJK SC',sans-serif">
<text x="512.5" y="972.9" font-size="28">第</text>
<text x="567.9" y="972.7" font-size="29">财</text>
<text x="598.6" y="973.4" font-size="27.3">经</text>
</g>
<g fill="#fff">
<rect x="543.6" y="946.5" width="21.4" height="29.3"/>
</g>
<g fill="#fff" font-weight="bold" font-size="20" font-family="'Liberation Sans','Noto Sans CJK SC',sans-serif">
<text x="769.3" y="946.9">晓</text>
<text x="769.9" y="971.5">数</text>
<text x="769.8" y="995.8">点</text>
</g>
<path d="M548.3,953.7L563.4,949.3L560.1,968.6L545.2,972.5Z" fill="#5591e0"/>
<g fill="#fff" font-size="6.5" text-anchor="middle" font-family="'Liberation Sans',sans-serif">
<text x="516.6" y="984.9">Y</text>
<text x="544.7" y="984.9">I</text>
<text x="572.4" y="984.9">C</text>
<text x="600.1" y="984.9">A</text>
<text x="624.8" y="984.9">I</text>
</g>
</svg>
</body>
</html>
